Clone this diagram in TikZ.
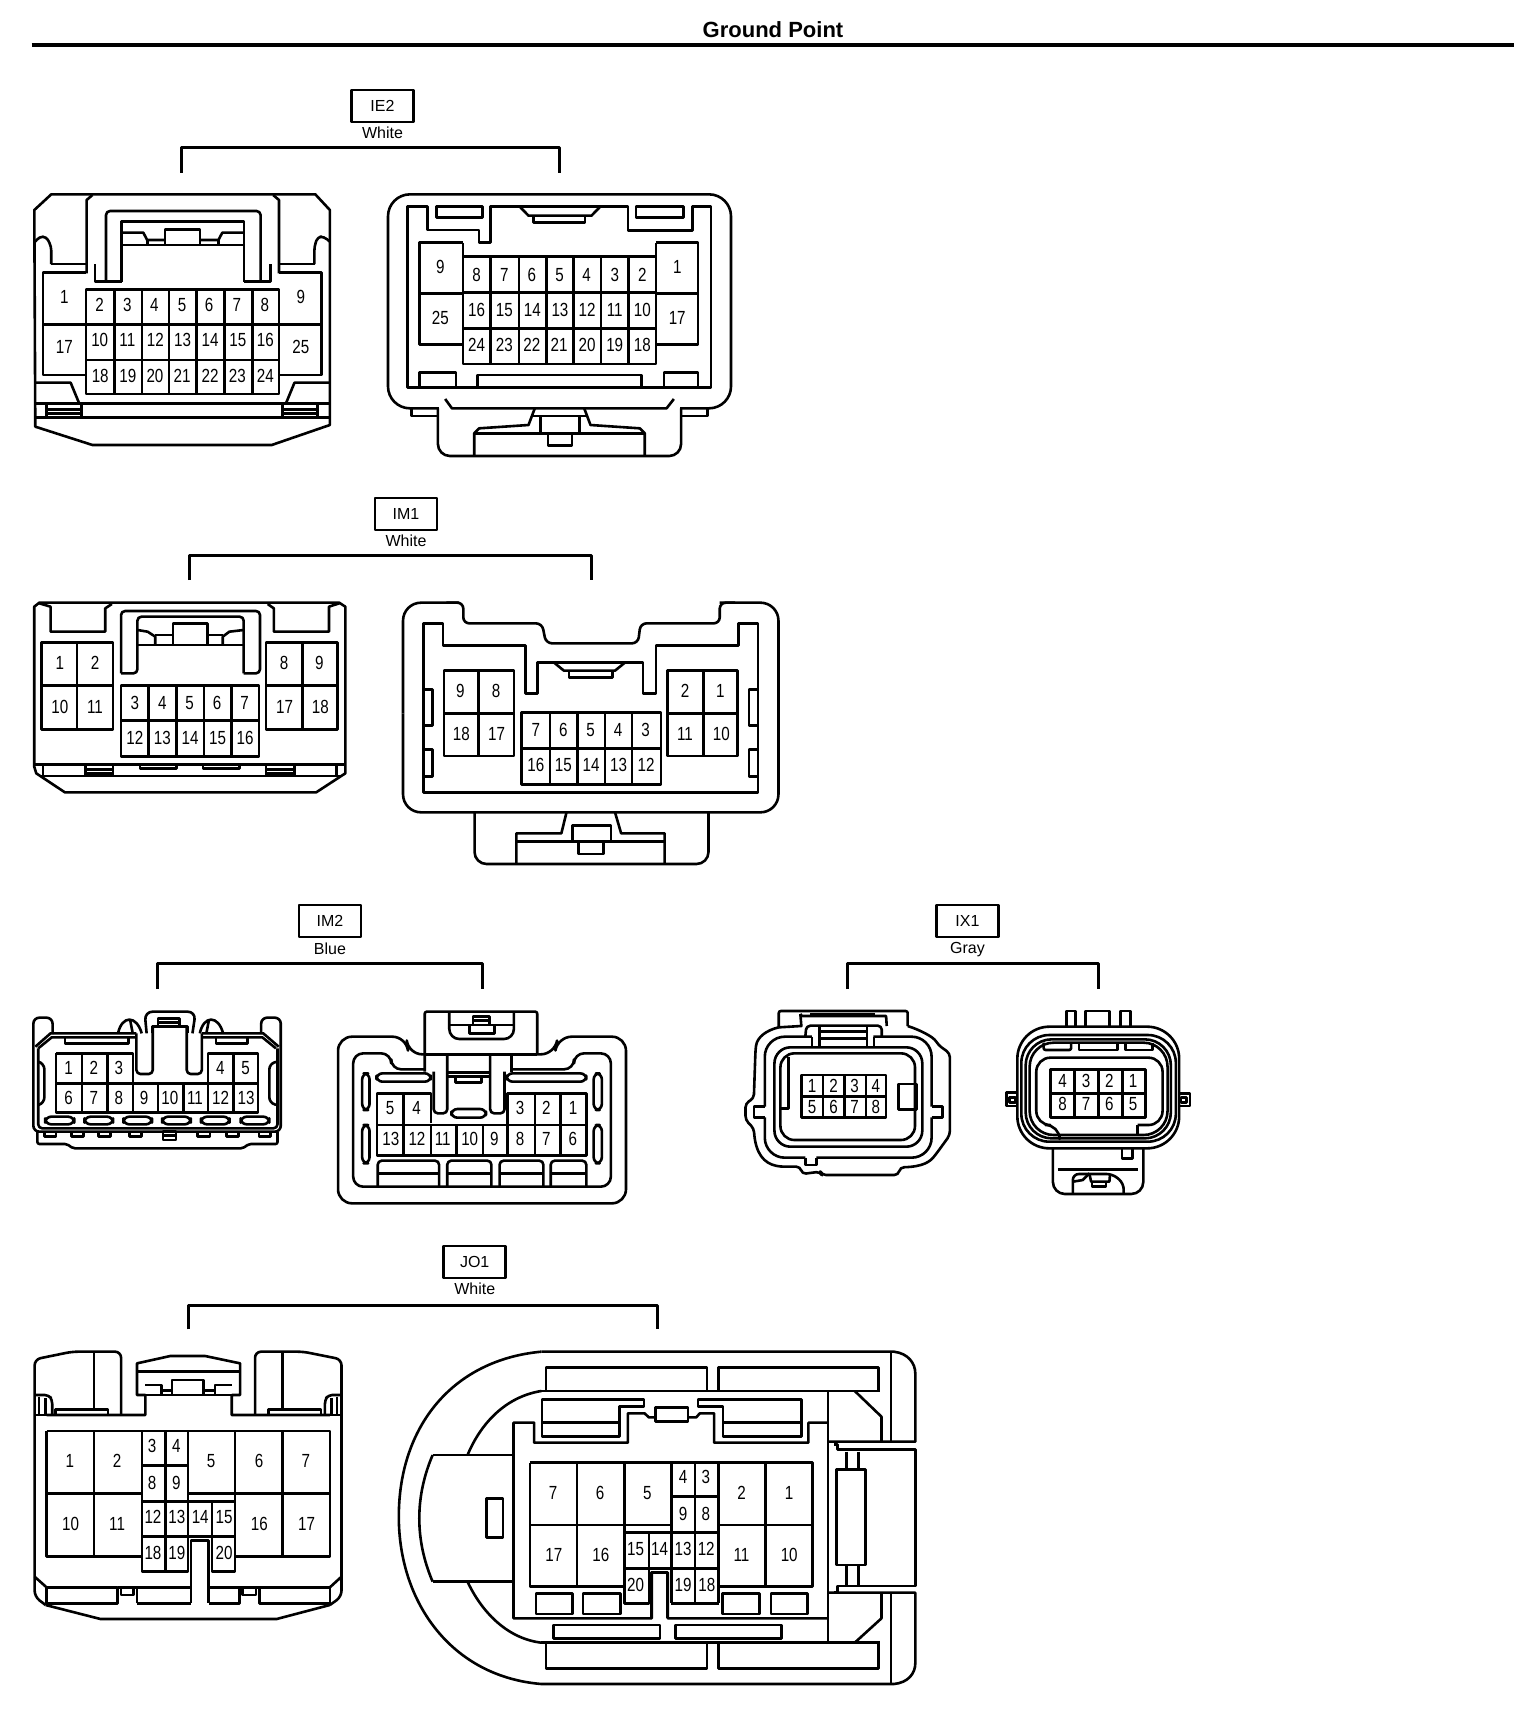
\documentclass[tikz,border=0pt]{standalone}
\usepackage{fontspec}
\setmainfont{Liberation Sans}
\newfontfamily\pinfont[FakeStretch=0.8]{Liberation Sans}
\tikzset{
  pinlbl/.style={font=\pinfont\fontsize{9.5}{10}\selectfont,inner sep=0pt},
  hdrbox/.style={draw,line width=1.25pt,minimum width=31pt,minimum height=16pt,inner sep=0pt,font=\fontsize{8}{9}\selectfont},
  hdrtxt/.style={inner sep=0pt,font=\fontsize{8}{9}\selectfont},
  brk/.style={line width=1.5pt},
  toprule/.style={line width=1.9pt}
}
\newcommand{\pinrow}[3]{\foreach \px/\pl in {#3}{\node[pinlbl] (#1-\pl) at (\px,#2) {\pl};}}
\newcommand{\VL}[3]{\foreach \qx in {#1}{\draw (\qx,#2) -- (\qx,#3);}}
\newcommand{\HL}[3]{\foreach \qy in {#1}{\draw (#2,\qy) -- (#3,\qy);}}
\newcommand{\hdrgroup}[6]{%
  \node[hdrbox] (#1box) at (#2,#3) {#4};
  \node[hdrtxt] (#1col) at (#2,#5) {#6};}
\newcommand{\bracketry}[5]{%
  \coordinate (#1L) at (#2,#5);
  \coordinate (#1R) at (#3,#5);
  \coordinate (#1T) at (#2,#4);
  \draw[brk] (#1L) |- (#1T) -| (#1R);}
\begin{document}
\begin{tikzpicture}[x=0.5pt,y=-0.5pt,line width=1.3pt,line join=round]
\useasboundingbox (0,0) rectangle (1536,1710);
\fill[white] (0,0) rectangle (1536,1710);
\node[inner sep=0pt,font=\bfseries\fontsize{11}{12}\selectfont] (title) at (773,30) {Ground Point};
\coordinate (ruleL) at (31.5,44.7);
\coordinate (ruleR) at (1514,44.7);
\draw[toprule] (ruleL) -- (ruleR);

% headers and brackets
\hdrgroup{ie}{382.5}{106}{IE2}{133}{White}
\bracketry{ie}{181.7}{559.5}{147.7}{172.7}
\hdrgroup{ima}{406}{514}{IM1}{540.7}{White}
\bracketry{ima}{189.5}{591.5}{555.7}{580}
\hdrgroup{imb}{330}{921}{IM2}{948.5}{Blue}
\bracketry{imb}{157.5}{482}{963.3}{989}
\hdrgroup{ix}{967.5}{921}{IX1}{950}{Gray}
\bracketry{ix}{847.5}{1098.8}{963.3}{989}
\hdrgroup{jo}{474.7}{1262}{JO1}{1289}{White}
\bracketry{jo}{188}{657.8}{1305}{1329.3}

%% ---------- IE2 ----------
\begin{scope}[shift={(0.4,60)},xscale=0.4845,yscale=0.33333]
% left connector
\draw (105,403) -- (650,403) -- (680,450) -- (680,1095) -- (560,1155) -- (190,1155) -- (72,1100) -- (70,450) -- cycle;
\draw (178,640) -- (178,420) -- (190,405);
\draw (575,640) -- (575,420) -- (563,405);
\draw (105,612) -- (178,612);
\draw (575,612) -- (650,612);
\draw[rounded corners=2pt] (72,545) -- (80,530) -- (95,530) -- (105,560) -- (105,612);
\draw[rounded corners=2pt] (680,545) -- (668,530) -- (655,530) -- (648,560) -- (648,612);
\draw[rounded corners=2pt] (218,665) -- (218,453) -- (537,453) -- (537,665);
\draw (250,665) -- (250,485) -- (503,485) -- (503,665);
\draw (195,612) -- (195,665) -- (250,665);
\draw (503,665) -- (557,665) -- (557,612);
\draw (250,518) -- (295,518) -- (303,540) -- (340,540);
\draw (250,555) -- (503,555);
\draw (340,555) -- (340,508) -- (412,508) -- (412,555);
\draw (412,540) -- (450,540) -- (458,518) -- (503,518);
\draw (303,540) -- (303,555);
\draw (450,540) -- (450,555);
\draw (177,688) rectangle (575,1002);
\VL{235,292,348,405,462,520}{688}{1002}
\HL{793,900}{177}{575}
\draw (177,638) -- (88,638) -- (88,945) -- (177,945);
\draw (575,638) -- (663,638) -- (663,945) -- (575,945);
\HL{793}{88}{177}
\HL{793}{575}{663}
\draw (72,968) -- (145,968) -- (162,1028);
\draw (680,968) -- (607,968) -- (590,1028);
\HL{1030,1072}{70}{680}
\VL{95,168,582,655}{1030}{1072}
\HL{1048,1060}{95}{168}
\HL{1048,1060}{582}{655}
\pinrow{iea}{735}{205/2,262/3,318/4,375/5,431/6,488/7,546/8}
\pinrow{iea}{840}{205/10,262/11,320/12,376/13,433/14,490/15,547/16}
\pinrow{iea}{948}{206/18,263/19,319/20,375/21,433/22,489/23,547/24}
\pinrow{iea}{712}{132/1,620/9}
\pinrow{iea}{862}{132/17,620/25}
% right connector
\draw[rounded corners=11pt] (800,700) -- (800,403) -- (1508,403) -- (1508,1045) -- (800,1045) -- cycle;
\fill[white] (905,1030) rectangle (1403,1060);
\draw (918,1017) -- (932,1045) -- (1375,1045) -- (1390,1017);
\draw (848,1045) -- (848,1068) -- (903,1068);
\draw (1460,1045) -- (1460,1068) -- (1405,1068);
\draw[rounded corners=6pt] (903,1045) -- (903,1188) -- (1405,1188) -- (1405,1045);
\draw (978,1188) -- (978,1120) -- (988,1105) -- (1090,1095) -- (1103,1045);
\draw (1330,1188) -- (1330,1120) -- (1320,1105) -- (1218,1095) -- (1205,1045);
\draw (978,1120) -- (1330,1120);
\draw (1100,1068) -- (1208,1068);
\VL{1115,1195}{1068}{1120}
\draw (1130,1120) -- (1130,1157) -- (1180,1157) -- (1180,1120);
\draw (840,983) -- (840,440) -- (882,440) -- (882,510) -- (988,510) -- (988,548) -- (1012,548) -- (1012,440) -- (1295,440) -- (1295,512) -- (1428,512) -- (1428,440) -- (1467,440) -- (1467,983) -- cycle;
\draw (900,440) rectangle (995,473);
\draw (1312,440) rectangle (1410,473);
\draw (1072,440) -- (1090,467) -- (1220,467) -- (1238,440);
\draw (1100,467) -- (1100,488) -- (1207,488) -- (1207,467);
\draw (865,983) -- (865,938) -- (940,938) -- (940,983);
\draw (985,983) -- (985,945) -- (1323,945) -- (1323,983);
\draw (1370,983) -- (1370,938) -- (1440,938) -- (1440,983);
\draw (955,590) rectangle (1353,912);
\VL{1012,1070,1127,1183,1240,1297}{590}{912}
\HL{698,805}{955}{1353}
\draw (955,548) -- (865,548) -- (865,853) -- (955,853) (955,548) -- (955,590);
\draw (1353,548) -- (1440,548) -- (1440,853) -- (1353,853) (1353,548) -- (1353,590);
\HL{700}{865}{955}
\HL{700}{1353}{1440}
\pinrow{ieb}{645}{983/8,1040/7,1097/6,1154/5,1210/4,1268/3,1325/2}
\pinrow{ieb}{750}{983/16,1040/15,1098/14,1155/13,1211/12,1268/11,1325/10}
\pinrow{ieb}{855}{983/24,1040/23,1097/22,1153/21,1211/20,1268/19,1325/18}
\pinrow{ieb}{620}{908/9,1397/1}
\pinrow{ieb}{773}{908/25,1397/17}
\end{scope}

%% ---------- IM1 ----------
\begin{scope}[shift={(-0.5,480)},xscale=0.5108,yscale=0.33333]
\draw (78,368) -- (665,368) -- (677,380) -- (677,880) -- (620,937) -- (128,937) -- (72,880) -- (68,860) -- (68,380) -- cycle;
\draw (78,370) -- (100,380) -- (100,455) -- (207,455) -- (207,385) -- (220,372);
\draw (665,370) -- (645,380) -- (645,455) -- (537,455) -- (537,385) -- (525,372);
\draw[rounded corners=2pt] (238,580) -- (238,393) -- (510,393) -- (510,580) -- (478,580);
\draw[rounded corners=2pt] (238,580) -- (270,580) -- (270,410) -- (478,410) -- (478,580);
\draw (270,450) -- (290,455) -- (305,470) -- (305,495);
\draw (270,495) -- (478,495);
\draw (340,495) -- (340,430) -- (407,430) -- (407,495);
\draw (478,450) -- (450,455) -- (437,470) -- (437,495);
\draw (305,465) -- (340,465);
\draw (407,465) -- (437,465);
\draw (82,488) rectangle (222,748);
\HL{617}{82}{222}
\VL{152}{488}{748}
\draw (522,488) rectangle (662,748);
\HL{617}{522}{662}
\VL{593}{488}{748}
\draw (238,617) rectangle (508,830);
\VL{292,346,400,454}{617}{830}
\HL{722}{238}{508}
\pinrow{ima}{550}{118/1,187/2,557/8,626/9}
\pinrow{ima}{680}{118/10,187/11,558/17,628/18}
\pinrow{ima}{668}{265/3,319/4,372/5,426/6,480/7}
\pinrow{ima}{775}{265/12,319/13,373/14,427/15,481/16}
\HL{853}{68}{677}
\HL{888}{78}{670}
\VL{85,168,222,522,578,660}{853}{888}
\HL{868,880}{168}{222}
\HL{868,880}{522}{578}
\draw (275,853) -- (275,866) -- (347,866) -- (347,853);
\draw (398,853) -- (398,866) -- (470,866) -- (470,853);
% right
\draw[rounded corners=9pt] (790,700) -- (790,368) -- (900,368);
\draw[rounded corners=3pt] (875,368) -- (908,368) -- (908,430) -- (1062,430) -- (1070,490) -- (1250,490) -- (1255,430) -- (1410,430) -- (1410,368) -- (1440,368);
\draw[rounded corners=9pt] (1410,368) -- (1525,368) -- (1525,997) -- (790,997) -- (790,700);
\draw (830,937) -- (830,430) -- (868,430) -- (868,497) -- (1030,497) -- (1030,640) -- (1053,640) -- (1053,547) -- (1260,547) -- (1260,640) -- (1285,640) -- (1285,497) -- (1447,497) -- (1447,430) -- (1485,430) -- (1485,937) -- cycle;
\draw (1085,547) -- (1105,572) -- (1205,572) -- (1225,547);
\draw (1115,572) -- (1115,593) -- (1200,593) -- (1200,572);
\draw (830,628) -- (848,628) -- (848,737) -- (830,737);
\draw (830,808) -- (848,808) -- (848,890) -- (830,890);
\draw (1485,628) -- (1467,628) -- (1467,737) -- (1485,737);
\draw (1485,808) -- (1467,808) -- (1467,890) -- (1485,890);
\draw (870,572) rectangle (1007,828);
\HL{700}{870}{1007}
\VL{938}{572}{828}
\draw (1308,572) rectangle (1445,828);
\HL{700}{1308}{1445}
\VL{1378}{572}{828}
\draw (1022,698) rectangle (1295,913);
\VL{1078,1132,1185,1238}{698}{913}
\HL{805}{1022}{1295}
\pinrow{imb}{632}{902/9,972/8,1342/2,1411/1}
\pinrow{imb}{762}{904/18,973/17,1342/11,1413/10}
\pinrow{imb}{750}{1050/7,1104/6,1157/5,1211/4,1265/3}
\pinrow{imb}{855}{1050/16,1104/15,1158/14,1212/13,1266/12}
\draw[rounded corners=6pt] (930,997) -- (930,1152) -- (1388,1152) -- (1388,997);
\draw (1012,1152) -- (1012,1060) -- (1100,1060) -- (1110,997);
\draw (1302,1152) -- (1302,1060) -- (1217,1060) -- (1205,997);
\draw (1012,1085) -- (1302,1085);
\draw (1122,1085) -- (1122,1037) -- (1197,1037) -- (1197,1085);
\draw (1133,1085) -- (1133,1122) -- (1182,1122) -- (1182,1085);
\end{scope}

%% ---------- IM2 ----------
\begin{scope}[shift={(-0.6,890)},xscale=0.409,yscale=0.33333]
\draw[rounded corners=3pt] (130,432) -- (130,383) -- (83,383) -- (83,725) -- (688,725) -- (688,383) -- (640,383) -- (640,432);
\draw (88,470) -- (125,430) -- (335,430);
\draw (683,470) -- (645,430) -- (495,430);
\draw (95,475) -- (128,442) -- (335,442);
\draw (676,475) -- (643,442) -- (495,442);
\draw[rounded corners=2pt] (95,475) -- (95,715) -- (680,715) -- (680,475);
\draw (160,442) -- (160,460) -- (315,460) -- (315,442);
\draw (530,442) -- (530,460) -- (607,460) -- (607,442);
\draw[rounded corners=4pt] (360,430) -- (355,365) -- (480,365) -- (472,430);
\draw (375,430) -- (375,410) -- (460,410) -- (460,430);
\draw[rounded corners=2pt] (375,410) -- (375,552) -- (335,552) -- (335,430);
\draw[rounded corners=2pt] (458,410) -- (458,552) -- (495,552) -- (495,430);
\draw (388,410) -- (388,385) -- (440,385) -- (440,410);
\draw (388,397) -- (440,397);
\draw (290,430) .. controls (300,375) and (335,375) .. (348,430);
\draw (320,392) -- (326,430);
\draw (490,430) .. controls (500,375) and (535,375) .. (547,430);
\draw (512,392) -- (506,430);
\draw[rounded corners=3pt] (95,515) -- (110,520) -- (110,640) -- (95,645);
\draw[rounded corners=3pt] (680,515) -- (660,520) -- (660,640) -- (680,645);
\draw (138,490) -- (327,490) -- (327,580);
\draw (510,580) -- (510,490) -- (632,490) -- (632,668) -- (138,668) -- (138,490);
\HL{580}{138}{632}
\VL{202,265}{490}{668}
\VL{572}{490}{668}
\VL{327,388,450,510}{580}{668}
\pinrow{imc}{535}{169/1,231/2,292/3,540/4,602/5}
\pinrow{imc}{625}{169/6,231/7,292/8,354/9,417/10,478/11,541/12,603/13}
\foreach \a/\b in {112/183,208/278,303/373,398/468,493/563,590/660}{\draw[rounded corners=3pt] (\a,680) rectangle (\b,703);}
\draw[rounded corners=1pt] (93,725) -- (93,762) -- (165,762) -- (180,775) -- (595,775) -- (610,762) -- (680,762) -- (680,725);
\foreach \a/\b in {110/138,177/205,242/272,318/348,485/515,555/585,635/663}{\draw (\a,725) -- (\a,740) -- (\b,740) -- (\b,725);}
\draw (400,725) rectangle (432,750);
\HL{737}{400}{432}
% right
\draw[rounded corners=7pt] (1040,493) -- (1000,493) -- (995,440) -- (828,440) -- (828,940) -- (1532,940) -- (1532,440) -- (1365,440) -- (1358,493) -- (1315,493);
\draw[rounded corners=1pt] (1040,545) -- (1040,365) -- (1315,365) -- (1315,493);
\draw (1040,493) -- (1315,493);
\draw[rounded corners=5pt] (1100,365) -- (1100,447) -- (1258,447) -- (1258,365);
\draw (1100,405) -- (1258,405);
\draw (1150,405) -- (1150,430) -- (1210,430) -- (1210,405);
\draw (1158,405) -- (1158,380) -- (1198,380) -- (1198,405);
\draw (1158,392) -- (1198,392);
\draw[rounded corners=5pt] (1040,538) -- (958,538) -- (958,490) -- (865,490) -- (865,890) -- (1495,890) -- (1495,490) -- (1405,490) -- (1405,538) -- (1252,538);
\draw[rounded corners=2pt] (1062,545) -- (1062,670) -- (1095,670) -- (1095,493);
\draw[rounded corners=2pt] (1200,493) -- (1200,670) -- (1235,670) -- (1235,545);
\VL{1252}{493}{545}
\HL{548,560}{1095}{1200}
\draw (1115,560) -- (1115,578) -- (1178,578) -- (1178,560);
\draw[rounded corners=3pt] (1105,657) rectangle (1190,683);
\draw[rounded corners=3pt] (922,550) rectangle (1055,575);
\draw[rounded corners=3pt] (1240,550) rectangle (1435,575);
\draw[rounded corners=3pt] (887,550) rectangle (905,660);
\draw[rounded corners=3pt] (887,705) rectangle (905,820);
\draw[rounded corners=3pt] (1453,550) rectangle (1473,660);
\draw[rounded corners=3pt] (1453,705) rectangle (1473,820);
\draw (1055,700) -- (1055,610) -- (923,610) -- (923,797) -- (1435,797) -- (1435,610) -- (1243,610) -- (1243,705);
\HL{705}{923}{1435}
\VL{988}{610}{797}
\VL{1310,1372}{610}{797}
\VL{1055,1118,1182,1243}{705}{797}
\pinrow{imd}{655}{955/5,1020/4,1273/3,1337/2,1403/1}
\pinrow{imd}{748}{957/13,1021/12,1084/11,1150/10,1210/9,1273/8,1337/7,1402/6}
\foreach \a/\b in {925/1075,1095/1203,1223/1330,1348/1435}{
  \draw[rounded corners=2pt] (\a,890) -- (\a,812) -- (\b,812) -- (\b,890);
  \draw (\a,850) -- (\b,850);}
\end{scope}

%% ---------- IX1 ----------
\begin{scope}[shift={(720.6,890)},xscale=0.3323,yscale=0.33333]
\draw[rounded corners=1pt] (175,412) -- (175,363) -- (563,363) -- (563,408);
\draw (270,372) -- (465,372);
\draw (240,372) -- (245,378) -- (498,378) -- (500,408);
\draw (240,372) -- (243,408) -- (175,412);
\draw[rounded corners=2pt] (563,408) .. controls (600,420) and (640,440) .. (655,465) -- (690,490) -- (690,735) -- (650,790) .. controls (630,815) and (610,830) .. (540,832) -- (535,855) -- (305,855) -- (300,845) -- (245,852) -- (240,830) -- (180,830) .. controls (130,820) and (105,790) .. (100,715) -- (75,690) -- (75,640) -- (100,625) -- (105,480) .. controls (110,440) and (140,420) .. (175,412);
\draw[rounded corners=10pt] (275,440) -- (133,440) -- (133,650);
\draw (133,650) -- (100,650) -- (100,682) -- (133,682);
\draw[rounded corners=10pt] (133,682) -- (133,803) -- (255,803);
\draw (255,803) -- (255,825) -- (288,825) -- (288,803);
\draw[rounded corners=10pt] (288,803) -- (635,803) -- (635,682);
\draw (635,682) -- (668,682) -- (668,650) -- (635,650);
\draw[rounded corners=10pt] (635,650) -- (635,440) -- (460,440);
\draw[rounded corners=8pt] (162,472) rectangle (607,770);
\draw[rounded corners=7pt] (180,490) rectangle (585,750);
\draw (205,500) -- (205,655) -- (180,655);
\draw[rounded corners=2pt] (255,440) -- (258,407) -- (485,407) -- (485,440);
\VL{275,297,440,462}{440}{470}
\VL{297,440}{407}{440}
\HL{425,445}{297}{440}
\draw (243,555) rectangle (498,683);
\HL{620}{243}{498}
\VL{308,372,437}{555}{683}
\pinrow{ixa}{587}{275/1,340/2,403/3,467/4}
\pinrow{ixa}{650}{275/5,340/6,403/7,467/8}
\draw (535,582) -- (590,582) -- (590,658) -- (535,658) -- cycle;
% right
\draw (1040,410) -- (1040,363) -- (1068,363) -- (1068,410);
\draw (1098,410) -- (1098,363) -- (1170,363) -- (1170,410);
\draw (1203,410) -- (1203,363) -- (1233,363) -- (1233,410);
\draw[rounded corners=16pt] (893,410) rectangle (1380,775);
\draw[rounded corners=14pt] (905,435) rectangle (1370,755);
\draw[rounded corners=13pt] (918,448) rectangle (1355,745);
\draw[rounded corners=12pt] (930,458) rectangle (1345,735);
\draw (893,608) -- (860,608) -- (860,648) -- (893,648);
\draw (870,622) -- (888,622) -- (888,638) -- (870,638) -- cycle;
\draw (1380,610) -- (1412,610) -- (1412,648) -- (1380,648);
\draw (1385,622) -- (1402,622) -- (1402,638) -- (1385,638) -- cycle;
\draw[rounded corners=1pt] (972,458) -- (972,480) -- (1055,480) -- (1055,458);
\draw (1078,458) -- (1078,480) -- (1195,480) -- (1195,458);
\draw (1218,458) -- (1218,480) -- (1300,480) -- (1300,458);
\draw[rounded corners=7pt] (1020,735) -- (1020,705) -- (950,705) -- (950,503) -- (1330,503) -- (1330,705) -- (1255,705);
\draw (1255,705) -- (1255,735);
\draw (993,538) rectangle (1278,682);
\HL{610}{993}{1278}
\VL{1065,1138,1210}{538}{682}
\pinrow{ixb}{572}{1029/4,1100/3,1170/2,1241/1}
\pinrow{ixb}{643}{1029/8,1100/7,1170/6,1241/5}
\draw[rounded corners=6pt] (1000,775) -- (1000,912) -- (1272,912) -- (1272,775);
\draw (1015,838) -- (1255,838);
\draw[rounded corners=3pt] (1060,912) -- (1060,852) -- (1180,852) -- (1213,880) -- (1213,912);
\draw (1060,875) -- (1090,870) -- (1110,850);
\draw (1110,852) -- (1115,875) -- (1170,875) -- (1172,852);
\draw (1118,875) -- (1118,890) -- (1160,890) -- (1160,875);
\draw (1208,775) -- (1208,805) -- (1240,805) -- (1240,775);
\end{scope}

%% ---------- JO1 left ----------
\begin{scope}[shift={(0.7,1230)},xscale=0.3325,yscale=0.33333]
\draw[rounded corners=3pt] (135,1125) -- (102,1100) -- (102,388) -- (215,365) -- (362,365) -- (362,552);
\draw[rounded corners=3pt] (765,552) -- (765,365) -- (910,365) -- (1025,388) -- (1025,1100) -- (990,1125);
\draw (135,1125) -- (300,1167) -- (830,1167) -- (990,1125);
\VL{280,847}{365}{540}
\draw (138,555) -- (435,555) -- (435,495) -- (410,495) -- (410,400) -- (510,378) -- (615,378) -- (720,400) -- (720,495) -- (695,495) -- (695,555) -- (990,555);
\HL{425}{410}{720}
\draw (435,495) -- (695,495);
\draw (435,465) -- (483,465) -- (483,495);
\draw (515,495) -- (515,450) -- (610,450) -- (610,495);
\draw (483,482) -- (515,482);
\draw (610,482) -- (645,482);
\draw (645,495) -- (645,465) -- (695,465);
\draw (165,552) -- (165,538) -- (323,538) -- (323,552);
\draw (805,552) -- (805,538) -- (963,538) -- (963,552);
\draw[rounded corners=2pt] (102,495) -- (145,495) -- (155,510) -- (155,555);
\draw (135,505) -- (135,555);
\draw (115,500) -- (115,555);
\draw (102,555) -- (138,555);
\draw[rounded corners=2pt] (1025,495) -- (985,495) -- (975,510) -- (975,555);
\draw (995,505) -- (995,555);
\draw (1012,500) -- (1012,555);
\draw (990,555) -- (1025,555);
\draw (138,603) -- (990,603) -- (990,980) -- (705,980);
\draw (138,603) -- (138,980) -- (425,980);
\HL{790}{138}{425}
\HL{790}{565}{990}
\VL{280,848}{603}{980}
\draw (425,603) -- (425,1025) -- (563,1025) -- (563,920);
\VL{495}{603}{1025}
\VL{563}{603}{815}
\HL{707}{425}{563}
\HL{815,920}{425}{705}
\VL{563,635}{815}{920}
\draw (705,603) -- (705,1025) -- (635,1025) -- (635,920);
\draw (572,1120) -- (572,932) -- (625,932) -- (625,1120);
\pinrow{joa}{693}{208/1,350/2,633/5,777/6,918/7}
\pinrow{joa}{647}{455/3,528/4}
\pinrow{joa}{758}{455/8,528/9}
\pinrow{joa}{882}{210/10,350/11,778/16,920/17}
\pinrow{joa}{862}{458/12,530/13,600/14,672/15}
\pinrow{joa}{968}{458/18,530/19,672/20}
\draw (102,1040) -- (138,1072);
\draw (1025,1040) -- (990,1072);
\draw (138,1072) rectangle (352,1120);
\draw (362,1072) rectangle (400,1095);
\draw (410,1120) -- (410,1072) -- (572,1072);
\draw (410,1120) -- (572,1120);
\draw (625,1072) -- (718,1072) -- (718,1120) -- (625,1120);
\draw (728,1072) rectangle (768,1095);
\draw (778,1072) rectangle (990,1120);
\HL{1072}{352}{410}
\HL{1072}{718}{778}
\end{scope}

%% ---------- JO1 right ----------
\begin{scope}[shift={(381,1310)},xscale=0.3562,yscale=0.33333]
\draw (450,125) -- (1440,125) .. controls (1480,130) and (1500,160) .. (1500,190) -- (1500,395) -- (1255,395);
\draw (1272,403) -- (1282,403) -- (1282,418) -- (1500,418) -- (1500,828) -- (1282,828) -- (1282,848) -- (1272,848);
\draw (1255,848) -- (1500,848) -- (1500,1060) .. controls (1500,1090) and (1480,1118) .. (1440,1122) -- (450,1122) .. controls (200,1100) and (50,880) .. (50,620) .. controls (50,350) and (200,150) .. (450,125);
\draw (450,243) .. controls (350,260) and (280,340) .. (243,435);
\draw (243,815) .. controls (280,900) and (350,985) .. (450,998);
\HL{243,998}{450}{1400}
\draw (463,243) -- (463,172) -- (915,172) -- (915,243);
\draw (948,243) -- (948,172) -- (1397,172) -- (1397,243);
\draw (463,1000) -- (463,1075) -- (915,1075) -- (915,1000);
\draw (948,1000) -- (948,1075) -- (1397,1075) -- (1397,1000);
\VL{1432}{125}{395}
\VL{1432}{848}{1122}
\VL{1255}{243}{1000}
\draw (1330,243) -- (1405,320) -- (1405,395);
\draw (1330,998) -- (1405,925) -- (1405,848);
\draw (145,435) -- (372,435);
\draw (145,815) -- (372,815);
\draw (145,435) .. controls (95,560) and (95,690) .. (145,815);
\draw (297,565) rectangle (342,683);
\draw (1255,925) -- (805,925) -- (805,788) -- (760,788) -- (760,925) -- (372,925) -- (372,338) -- (430,338) -- (430,398) -- (693,398) -- (693,310) -- (740,310) -- (752,322) -- (770,322);
\draw (862,322) -- (885,322) -- (895,310) -- (935,310) -- (935,398) -- (1200,398) -- (1200,338) -- (1255,338);
\draw (770,292) rectangle (862,335);
\draw (452,268) -- (738,268) -- (738,290) -- (670,290) -- (670,380) -- (452,380) -- cycle;
\HL{338}{452}{670}
\draw (890,268) -- (1180,268) -- (1180,380) -- (960,380) -- (960,290) -- (890,290) -- cycle;
\HL{338}{960}{1180}
\draw (418,458) -- (1212,458) -- (1212,830) -- (948,830);
\draw (418,458) -- (418,830) -- (683,830);
\HL{645}{418}{815}
\HL{645}{948}{1212}
\VL{550,683}{458}{645}
\VL{550}{645}{830}
\VL{1080}{458}{830}
\VL{815,882,948}{458}{880}
\draw (683,645) -- (683,880) -- (752,880) -- (752,668);
\draw (815,880) -- (948,880);
\HL{560}{815}{948}
\HL{668}{683}{948}
\HL{775}{683}{948}
\fill[white] (766,782) rectangle (799,880);
\draw (760,925) -- (760,788) -- (805,788) -- (805,925);
\draw (805,775) -- (815,775);
\pinrow{job}{548}{483/7,615/6,748/5,1012/2,1146/1}
\pinrow{job}{500}{848/4,912/3}
\pinrow{job}{612}{848/9,912/8}
\pinrow{job}{735}{485/17,617/16,1012/11,1146/10}
\pinrow{job}{718}{715/15,782/14,848/13,913/12}
\pinrow{job}{825}{715/20,848/19,915/18}
\draw (435,850) rectangle (537,912);
\draw (567,850) rectangle (672,912);
\draw (958,850) rectangle (1062,912);
\draw (1095,850) rectangle (1197,912);
\draw (485,945) rectangle (783,985);
\draw (827,945) rectangle (1125,985);
\draw (1278,478) rectangle (1360,765);
\VL{1307,1340}{425}{478}
\VL{1307,1340}{765}{828}
\end{scope}
\end{tikzpicture}
\end{document}
